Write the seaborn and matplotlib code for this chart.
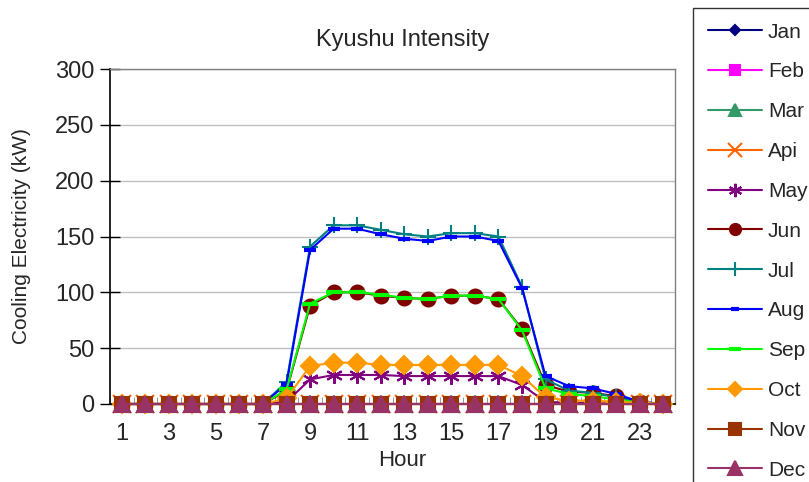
import numpy as np
import pandas as pd
import matplotlib
matplotlib.use("Agg")
import matplotlib.pyplot as plt
import seaborn as sns

# hourly cooling electricity (kW)
hours = list(range(1, 25))
months = ['Jan', 'Feb', 'Mar', 'Api', 'May', 'Jun', 'Jul', 'Aug', 'Sep', 'Oct', 'Nov', 'Dec']

zero = [0] * 24
jan = zero
feb = zero
mar = zero
apr = zero
may = [0, 0, 0, 0, 0, 0, 0, 2, 22, 26, 26, 26, 25, 25, 25, 25, 25, 17, 2, 1, 1, 0, 0, 0]
jun = [0, 0, 0, 0, 0, 0, 0, 12, 88, 100, 100, 97, 95, 94, 97, 97, 94, 67, 17, 11, 10, 7, 2, 0]
jul = [0, 0, 0, 0, 0, 0, 0, 20, 141, 160, 160, 156, 152, 150, 153, 153, 150, 105, 22, 12, 10, 6, 1, 0]
aug = [0, 0, 0, 0, 0, 0, 0, 18, 138, 157, 157, 152, 148, 146, 150, 150, 146, 104, 25, 16, 14, 9, 2, 0]
sep = [0, 0, 0, 0, 0, 0, 0, 13, 90, 100, 100, 98, 95, 94, 97, 97, 94, 66, 14, 9, 7, 4, 1, 0]
oct_ = [0, 0, 0, 0, 0, 0, 0, 5, 34, 37, 37, 35, 35, 35, 35, 35, 35, 25, 6, 3, 3, 2, 1, 0]
nov = zero
dec = zero

series = [jan, feb, mar, apr, may, jun, jul, aug, sep, oct_, nov, dec]

colors = {'Jan': '#000080', 'Feb': '#FF00FF', 'Mar': '#339966', 'Api': '#FF6600',
          'May': '#800080', 'Jun': '#800000', 'Jul': '#008080', 'Aug': '#0000FF',
          'Sep': '#00FF00', 'Oct': '#FF9900', 'Nov': '#993300', 'Dec': '#993366'}
markers = {'Jan': 'D', 'Feb': 's', 'Mar': '^', 'Api': 'x', 'May': (6, 2, 0),
           'Jun': 'o', 'Jul': '+', 'Aug': '_', 'Sep': '_', 'Oct': 'D',
           'Nov': 's', 'Dec': '^'}
msizes = {'Jan': 7, 'Feb': 9, 'Mar': 11, 'Api': 13, 'May': 12, 'Jun': 10,
          'Jul': 12, 'Aug': 8, 'Sep': 11, 'Oct': 9, 'Nov': 10, 'Dec': 12}

sns.set_style('white')
plt.rcParams['font.family'] = ['Liberation Sans', 'DejaVu Sans']

fig = plt.figure(figsize=(8.09, 4.82), dpi=100)
ax = fig.add_axes([110 / 809, 78 / 482, 565 / 809, 335 / 482])

for m, vals in zip(months, series):
    d = pd.DataFrame({'Hour': hours, 'kW': vals})
    mew = 3 if markers[m] == '_' else 1.5
    sns.lineplot(data=d, x='Hour', y='kW', color=colors[m], marker=markers[m],
                 markersize=msizes[m], markeredgewidth=mew,
                 markeredgecolor=colors[m], linewidth=1.5, label=m, ax=ax,
                 clip_on=False, zorder=3)

ax.set_xlim(0.5, 24.5)
ax.set_ylim(0, 300)
ax.set_yticks(range(0, 301, 50))
ax.set_xticks(range(1, 24, 2))
ax.set_xticks(np.arange(0.5, 24.6, 1), minor=True)
ax.tick_params(axis='x', which='minor', direction='in', length=5, color='#888888', bottom=True)
ax.tick_params(axis='x', which='major', length=0, labelsize=17, pad=14)
ax.tick_params(axis='y', direction='inout', length=14, width=1, labelsize=17,
               color='black', left=True, pad=4)
ax.yaxis.grid(True, color='#c0c0c0', linewidth=1)
ax.set_axisbelow(True)

for side in ['top', 'right']:
    ax.spines[side].set_color('#808080')
    ax.spines[side].set_linewidth(1)
for side in ['left', 'bottom']:
    ax.spines[side].set_color('black')
    ax.spines[side].set_linewidth(1.2)

ax.text(0.518, 1.087, 'Kyushu Intensity', transform=ax.transAxes,
        ha='center', va='center', fontsize=17)
ax.set_xlabel('Hour', fontsize=16)
ax.set_ylabel('Cooling Electricity (kW)', fontsize=15)
ax.xaxis.set_label_coords(0.518, -0.17)
ax.yaxis.set_label_coords(-0.156, 0.5)
ax.xaxis.label.set_va('center')
ax.yaxis.label.set_va('center')

handles, labels = ax.get_legend_handles_labels()
ax.get_legend().remove()
leg = fig.legend(handles, labels, loc='upper left',
                 bbox_to_anchor=(693 / 809, 1 - 8 / 482), fontsize=15,
                 frameon=True, fancybox=False, edgecolor='black',
                 handlelength=2.6, labelspacing=1.0, handletextpad=0.3,
                 borderpad=0.7, borderaxespad=0, markerscale=0.8)
leg.get_frame().set_linewidth(1)

fig.savefig('out.png', dpi=100)
